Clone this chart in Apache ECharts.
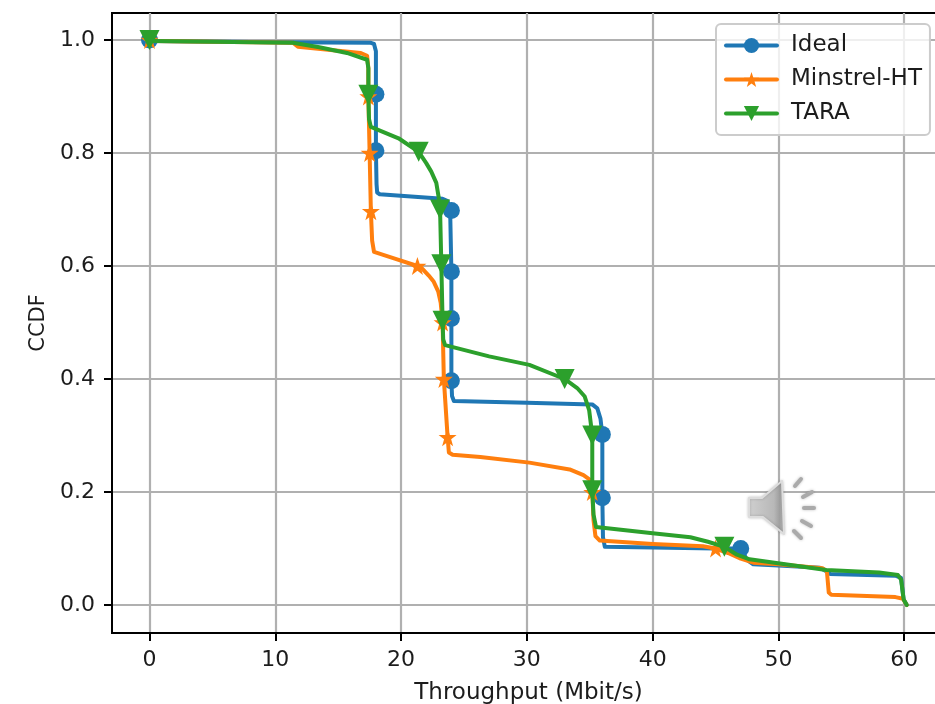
<!DOCTYPE html>
<html>
<head>
<meta charset="utf-8">
<style>html,body{margin:0;padding:0;background:#fff;overflow:hidden}#c{width:935px;height:704px}</style>
<script src="https://cdn.jsdelivr.net/npm/echarts@6/dist/echarts.min.js"></script>
</head>
<body>
<div id="c"></div>
<script>
const xTicks = [0, 10, 20, 30, 40, 50, 60];
const yTicks = [0, 0.2, 0.4, 0.6, 0.8, 1.0];
const seriesNames = ['Ideal', 'Minstrel-HT', 'TARA'];
const seriesColors = ['#1f77b4', '#ff7f0e', '#2ca02c'];

const idealCurve = [[0,1.0],[0.3,0.998],[10,0.996],[17.6,0.995],[17.85,0.993],[18.0,0.98],[18.0,0.904],[18.0,0.804],[18.05,0.745],[18.1,0.73],[18.3,0.727],[23.3,0.719],[23.7,0.715],[23.9,0.70],[24.0,0.698],[24.0,0.59],[24.0,0.507],[24.0,0.397],[24.05,0.37],[24.2,0.361],[30,0.358],[35.2,0.355],[35.6,0.348],[35.85,0.33],[36.0,0.302],[36.0,0.19],[36.05,0.12],[36.2,0.103],[40,0.102],[45,0.1],[47.0,0.1],[47.5,0.08],[48.0,0.072],[50,0.07],[53.3,0.066],[53.8,0.06],[54.1,0.055],[59.3,0.052],[59.75,0.048],[59.95,0.01],[60.2,0.0]];
const idealMarkers = [[0,1.0],[18.0,0.904],[18.0,0.804],[24.0,0.698],[24.0,0.59],[24.0,0.507],[24.0,0.397],[36.0,0.302],[36.0,0.19],[47.0,0.1]];

const minstrelCurve = [[0,1.0],[0.3,0.998],[11.4,0.995],[11.8,0.988],[14,0.983],[16.8,0.977],[17.3,0.972],[17.4,0.95],[17.4,0.9],[17.5,0.8],[17.6,0.697],[17.7,0.645],[17.85,0.625],[19.5,0.613],[21.3,0.6],[21.7,0.595],[22.2,0.583],[22.6,0.572],[22.95,0.555],[23.15,0.535],[23.3,0.5],[23.4,0.4],[23.7,0.297],[23.8,0.27],[24.1,0.266],[26.3,0.262],[30.2,0.252],[33.4,0.24],[34.5,0.23],[35.0,0.222],[35.2,0.2],[35.3,0.15],[35.45,0.122],[35.8,0.114],[40,0.108],[44,0.104],[45,0.1],[46,0.092],[47,0.082],[48,0.075],[50,0.072],[53.5,0.065],[53.85,0.06],[54.0,0.022],[54.2,0.018],[59.3,0.014],[59.9,0.011],[60.2,0.0]];
const minstrelMarkers = [[0,1.0],[17.4,0.9],[17.5,0.8],[17.6,0.697],[21.3,0.6],[23.3,0.5],[23.4,0.4],[23.7,0.297],[35.2,0.2],[45,0.1]];

const taraCurve = [[0,1.0],[0.3,0.998],[11.4,0.995],[13.5,0.987],[15.7,0.977],[17.3,0.965],[17.4,0.95],[17.4,0.903],[17.45,0.86],[17.6,0.846],[19.8,0.826],[21.4,0.802],[22.0,0.782],[22.4,0.767],[22.8,0.747],[23.0,0.72],[23.1,0.7],[23.2,0.603],[23.3,0.503],[23.35,0.47],[23.5,0.46],[27,0.44],[30.2,0.425],[33,0.4],[34.0,0.384],[34.6,0.369],[34.95,0.345],[35.2,0.3],[35.2,0.203],[35.3,0.16],[35.5,0.138],[40,0.127],[43,0.12],[44.4,0.112],[45.7,0.103],[46.7,0.089],[47.7,0.081],[53.8,0.062],[58,0.0575],[59.5,0.053],[59.75,0.045],[59.95,0.01],[60.2,0.0]];
const taraMarkers = [[0,1.0],[17.4,0.903],[21.4,0.802],[23.1,0.7],[23.2,0.603],[23.3,0.503],[33,0.4],[35.2,0.3],[35.2,0.203],[45.7,0.103]];

const starPath = 'path://M50 0 L61.8 35.5 L98 35.5 L68.8 57.5 L79.4 93 L50 71 L20.6 93 L31.2 57.5 L2 35.5 L38.2 35.5 Z';
const triPath = 'path://M0 0 L100 0 L50 100 Z';

function toData(curve, markers) {
  const keys = new Set(markers.map(p => p.join(',')));
  return curve.map(p => keys.has(p.join(',')) ? { value: p } : { value: p, symbol: 'none' });
}
function line(i, curve, markers, symbol, size) {
  return {
    name: seriesNames[i], type: 'line', data: toData(curve, markers),
    symbol: symbol, symbolSize: size, showAllSymbol: true,
    smooth: false, clip: true, z: 3 + i, animation: false,
    itemStyle: { color: seriesColors[i] },
    lineStyle: { color: seriesColors[i], width: 4, join: 'round', cap: 'round' },
    emphasis: { disabled: true }
  };
}
const font = 'DejaVu Sans';
const textColor = '#1c1c1c';
const barStyle = { stroke: '#aaa', lineWidth: 4, lineCap: 'round', shadowBlur: 3, shadowColor: 'rgba(0,0,0,0.25)' };
const chart = echarts.init(document.getElementById('c'), null, { renderer: 'canvas' });
chart.setOption({
  animation: false,
  backgroundColor: '#fff',
  grid: { left: 112, top: 13, width: 833, height: 620, show: true, borderColor: '#000', borderWidth: 2, backgroundColor: 'transparent', containLabel: false, outerBoundsMode: 'none' },
  xAxis: {
    type: 'value', min: -2.98, max: 63.24, name: 'Throughput (Mbit/s)', nameLocation: 'middle',
    nameGap: 49, nameTextStyle: { fontFamily: font, fontSize: 23, color: textColor },
    axisLine: { show: true, onZero: false, lineStyle: { color: '#000', width: 2 } },
    axisTick: { show: true, length: 8, customValues: xTicks, lineStyle: { color: '#000', width: 2 } },
    axisLabel: { customValues: xTicks, fontFamily: font, fontSize: 22, color: textColor, margin: 16, formatter: v => String(v), hideOverlap: false },
    splitLine: { show: true, lineStyle: { color: '#b0b0b0', width: 2.2 } }
  },
  yAxis: {
    type: 'value', min: -0.0495, max: 1.0477, name: 'CCDF', nameLocation: 'middle',
    nameGap: 62, nameTextStyle: { fontFamily: font, fontSize: 21, color: textColor },
    axisLine: { show: true, onZero: false, lineStyle: { color: '#000', width: 2 } },
    axisTick: { show: true, length: 8, customValues: yTicks, lineStyle: { color: '#000', width: 2 } },
    axisLabel: { customValues: yTicks, fontFamily: font, fontSize: 22, color: textColor, margin: 17, padding: [5, 0, 0, 0], formatter: v => v.toFixed(1), hideOverlap: false },
    splitLine: { show: true, lineStyle: { color: '#b0b0b0', width: 2.2 } }
  },
  legend: {
    left: 716, top: 24, orient: 'vertical', align: 'left',
    data: seriesNames, itemWidth: 51, itemHeight: 19, itemGap: 11,
    padding: [10, 8, 10, 8], backgroundColor: 'rgba(255,255,255,0.8)',
    borderColor: '#ccc', borderWidth: 2, borderRadius: 5,
    lineStyle: { width: 4 },
    textStyle: { fontFamily: font, fontSize: 23, color: textColor, padding: [0, 0, 0, 9] },
    selectedMode: false, z: 20
  },
  graphic: [
    { type: 'polygon', z: 30, shape: { points: [[749,498],[762,498],[782,481],[784,534],[763,517],[749,517]] },
      style: { fill: new echarts.graphic.LinearGradient(0,0,1,0,[{offset:0,color:'#d0d0d0'},{offset:0.7,color:'#b8b8b8'},{offset:0.85,color:'#a0a0a0'},{offset:1,color:'#c4c4c4'}]), stroke:'#ddd', lineWidth:2, lineJoin:'round', shadowBlur:3, shadowColor:'rgba(0,0,0,0.2)' } },
    { type: 'line', z: 30, shape: {x1:795,y1:486,x2:801,y2:479}, style: barStyle },
    { type: 'line', z: 30, shape: {x1:803,y1:497,x2:812,y2:492}, style: barStyle },
    { type: 'line', z: 30, shape: {x1:804,y1:508,x2:814,y2:508}, style: barStyle },
    { type: 'line', z: 30, shape: {x1:802,y1:521,x2:811,y2:526}, style: barStyle },
    { type: 'line', z: 30, shape: {x1:794,y1:531,x2:801,y2:538}, style: barStyle }
  ],
  series: [
    line(0, idealCurve, idealMarkers, 'circle', 17),
    line(1, minstrelCurve, minstrelMarkers, starPath, 18),
    line(2, taraCurve, taraMarkers, triPath, 20)
  ]
});
</script>
</body>
</html>
